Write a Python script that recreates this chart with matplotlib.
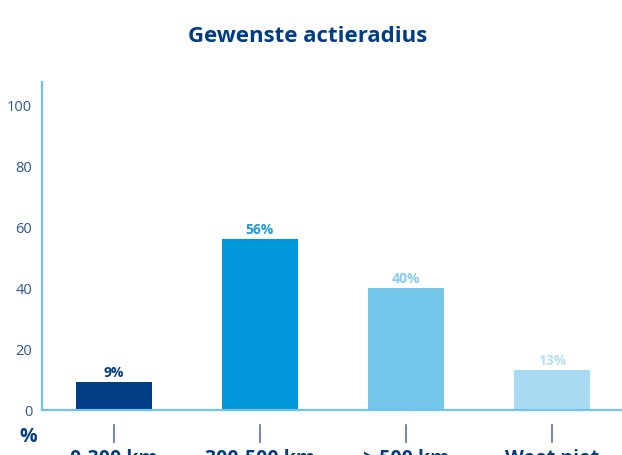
import matplotlib
matplotlib.use("Agg")
import matplotlib.pyplot as plt

# Data
categories = ["0-300 km", "300-500 km", "> 500 km", "Weet niet"]
values = [9, 56, 40, 13]
value_labels = ["9%", "56%", "40%", "13%"]
yticks = [0, 20, 40, 60, 80, 100]

bar_colors = ["#003d85", "#0098da", "#74c6eb", "#a8dbf1"]
label_colors = ["#003d85", "#1b9bd8", "#86cdee", "#b3e0f3"]
dark = "#003d85"
axis_col = "#6ec4ec"

plt.rcParams["font.family"] = ["Open Sans", "DejaVu Sans"]

fig = plt.figure(figsize=(6.22, 4.56), dpi=100)
ax = fig.add_axes([0.0675, 0.0987, 0.9325, 0.7193])

x = list(range(len(categories)))
ax.bar(x, values, width=0.52, color=bar_colors, zorder=2)

for xi, v, lab, c in zip(x, values, value_labels, label_colors):
    ax.text(xi, v + 1.0, lab, ha="center", va="bottom", fontsize=10,
            fontweight="bold", color=c)

ax.set_xlim(-0.49, 3.48)
ax.set_ylim(0, 107.2)

ax.set_yticks(yticks)
ax.set_yticklabels([str(t) for t in yticks], color="#2c5597", fontsize=10.5)
ax.tick_params(axis="y", length=0, pad=7)
ax.set_xticks([])

for s in ["top", "right"]:
    ax.spines[s].set_visible(False)
for s in ["left", "bottom"]:
    ax.spines[s].set_color(axis_col)
    ax.spines[s].set_linewidth(1.6)

# tick marks and category labels below the axis (cut off by the figure edge, as in the source)
for xi, cat in zip(x, categories):
    ax.plot([xi, xi], [-4.9, -10.3], color="#5a6fa8", lw=1.2, clip_on=False)
    ax.text(xi, -12.5, cat, ha="center", va="top", fontsize=14,
            fontweight="bold", color=dark, clip_on=False)

fig.text(28 / 622, 1 - 437 / 456, "%", ha="center", va="center",
         fontsize=14, fontweight="bold", color=dark)

fig.text(308 / 622, 1 - 37 / 456, "Gewenste actieradius", ha="center",
         va="center", fontsize=16, fontweight="bold", color=dark)

fig.savefig("out.png", dpi=100)
